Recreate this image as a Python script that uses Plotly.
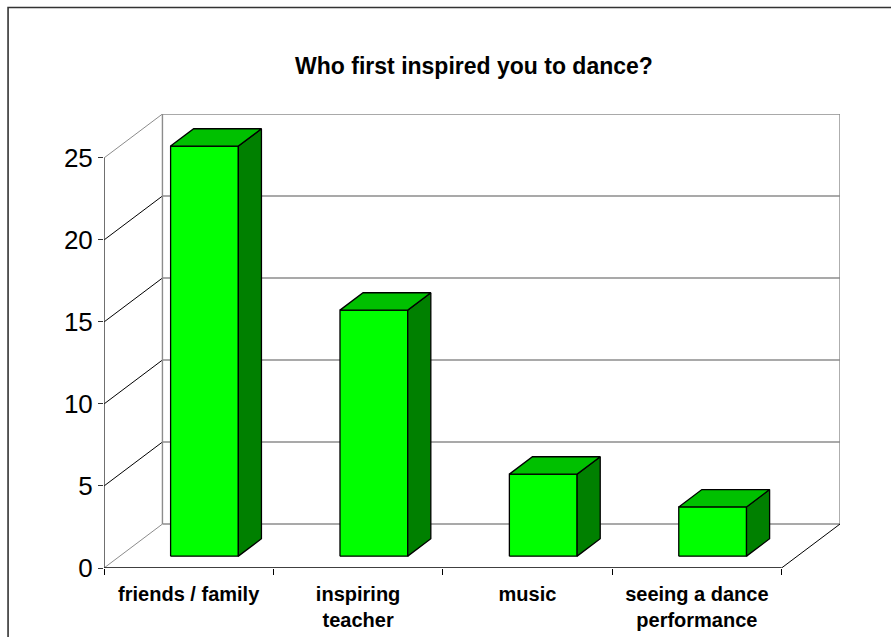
import plotly.graph_objects as go

# Survey answers
categories = ["friends / family", "inspiring<br>teacher", "music", "seeing a dance<br>performance"]
counts = [25, 15, 5, 3]
y_ticks = [0, 5, 10, 15, 20, 25]

FRONT_GREEN = "#00FF00"
TOP_GREEN = "#00C000"
SIDE_GREEN = "#008000"
WALL_GRAY = "#8C8C8C"
FONT = "Liberation Sans, Arial, sans-serif"

# Oblique projection of the depth axis, in data units
DX, DY = 0.345, 2.68
Z0, Z1 = 0.27, 0.665      # bar front / back depth fractions
BAR_W = 0.40
YMAX = y_ticks[-1]
n = len(categories)

W, H = 891, 637
L, B = 104, 69
PX_PER_CAT = 169.5
PX_PER_UNIT = 16.4
plot_w = (n + DX) * PX_PER_CAT
plot_h = (YMAX + DY) * PX_PER_UNIT
R = W - L - plot_w
T = H - B - plot_h

fig = go.Figure()


def line(xs, ys, color, width):
    fig.add_trace(go.Scatter(x=xs, y=ys, mode="lines", line=dict(color=color, width=width),
                             hoverinfo="skip", showlegend=False))


def face(xs, ys, fill):
    fig.add_trace(go.Scatter(x=xs, y=ys, mode="lines", fill="toself", fillcolor=fill,
                             line=dict(color="black", width=1.3), hoverinfo="skip",
                             showlegend=False))


# back wall gridlines
for v in y_ticks:
    line([DX, n + DX], [v + DY, v + DY], WALL_GRAY, 1.4)
# side wall gridlines
for v in y_ticks:
    line([0, DX], [v, v + DY], WALL_GRAY if v in (0, YMAX) else "black", 1)
# back wall edges
line([DX, DX], [DY, YMAX + DY], WALL_GRAY, 1.4)
line([n + DX, n + DX], [DY, YMAX + DY], WALL_GRAY, 1.4)
# floor right edge
line([n, n + DX], [0, DY], "black", 1)
# front axes
line([0, n], [0, 0], "black", 1.4)
line([0, 0], [0, YMAX], "#333333", 1.4)

# 3D bars: front, side and top faces
ddx, ddy = (Z1 - Z0) * DX, (Z1 - Z0) * DY
for i, v in enumerate(counts):
    x0 = i + 0.5 - BAR_W / 2 + Z0 * DX
    x1 = x0 + BAR_W
    yb = Z0 * DY
    yt = v + Z0 * DY
    face([x0, x1, x1, x0, x0], [yb, yb, yt, yt, yb], FRONT_GREEN)
    face([x1, x1 + ddx, x1 + ddx, x1, x1], [yb, yb + ddy, yt + ddy, yt, yb], SIDE_GREEN)
    face([x0, x1, x1 + ddx, x0 + ddx, x0], [yt, yt, yt + ddy, yt + ddy, yt], TOP_GREEN)

fig.update_layout(
    width=W, height=H,
    margin=dict(l=L, r=R, t=T, b=B, autoexpand=False),
    paper_bgcolor="white", plot_bgcolor="white",
    font=dict(family=FONT, color="black"),
    title=dict(text="Who first inspired you to dance?", x=474 / W, xanchor="center",
               y=1 - 66 / H, yanchor="middle", yref="container",
               font=dict(size=23, weight="bold", family=FONT)),
    xaxis=dict(range=[0, n + DX], showgrid=False, zeroline=False, showline=False,
               tickvals=[i + 0.5 for i in range(n)], ticktext=categories,
               ticks="", tickfont=dict(size=20, weight="bold", family=FONT),
               ticklabelstandoff=12,
               minor=dict(tickvals=list(range(n + 1)), ticks="outside", ticklen=6,
                          tickcolor="black", tickwidth=1, showgrid=False)),
    yaxis=dict(range=[0, YMAX + DY], showgrid=False, zeroline=False, showline=False,
               tickvals=y_ticks, ticks="outside", ticklen=5, tickcolor="#333333",
               tickwidth=1.2, tickfont=dict(size=26, family=FONT)),
    shapes=[dict(type="rect", xref="paper", yref="paper",
                 x0=(8 - L) / plot_w, x1=(W + 10 - L) / plot_w,
                 y0=-(H + 10 - (T + plot_h)) / plot_h, y1=1 + (T - 7.5) / plot_h,
                 line=dict(color="#333333", width=1.6), layer="below")],
)

fig.write_html("out.html")
